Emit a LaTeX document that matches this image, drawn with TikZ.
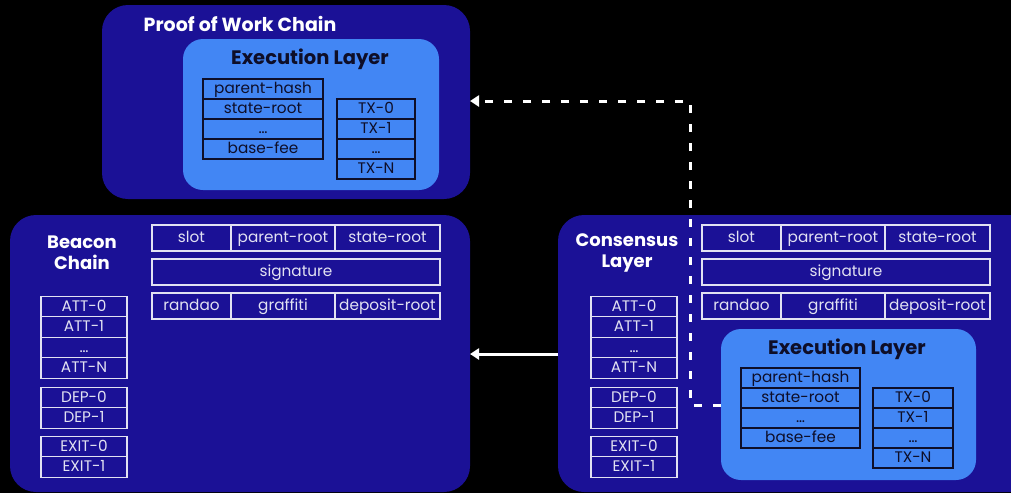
\documentclass[tikz,border=0pt]{standalone}
\usepackage{fontspec}
\setmainfont{Poppins}
\usetikzlibrary{arrows.meta}
\definecolor{navy}{RGB}{27,17,150}
\definecolor{sky}{RGB}{66,134,244}
\definecolor{edge}{RGB}{226,226,242}
\definecolor{ink}{RGB}{14,14,40}
\tikzset{
  chain/.style={fill=navy, rounded corners=26pt},
  layer/.style={fill=sky, rounded corners=20pt},
  heading/.style={font=\bfseries\fontsize{18}{21}\selectfont, text=white, align=center},
  lheading/.style={font=\bfseries\fontsize{19.5}{21}\selectfont, text=ink},
  cellfont/.style={font=\fontsize{15.3}{16}\selectfont, text height=11pt, text depth=1.4pt},
  cell/.style={draw=edge, line width=1.3pt, text=edge, inner sep=0pt, cellfont},
  ecell/.style={draw=ink, line width=1.1pt, text=ink, inner sep=0pt, cellfont},
  link/.style={draw=white, line width=3pt, -{Triangle[length=9pt,width=11pt]}},
}
\begin{document}
\begin{tikzpicture}[x=1pt,y=-1pt]
\fill[black] (0,0) rectangle (1011,493);
\useasboundingbox (0,0) rectangle (1011,493);

% ---------- proof of work chain ----------
\fill[chain] (102,5) rectangle (470,199);
\node[heading, font=\bfseries\fontsize{19}{21}\selectfont] (powt) at (240,24) {Proof of Work Chain};
\fill[layer] (183,39) rectangle (439,190);
\node[lheading] (powel) at (310,59) {Execution Layer};
\foreach \t [count=\i from 0] in {parent-hash,state-root,\dots,base-fee}
  \node[ecell, minimum width=120pt, minimum height=20pt] (powh\i) at (263,89+20*\i) {\t};
\foreach \t [count=\i from 0] in {TX-0,TX-1,\dots,TX-N}
  \node[ecell, minimum width=78pt, minimum height=20pt] (powtx\i) at (376,109+20*\i) {\t};

% ---------- beacon chain ----------
\fill[chain] (10,215) rectangle (470,492);
\node[heading] (bct) at (82,253) {Beacon\\Chain};

% ---------- consensus layer ----------
\fill[chain] (558,215) rectangle (1036,492);
\node[heading] (clt) at (627,253) {Consensus\\Layer};

% block header fields and body lists (same in both)
\foreach \ox/\p in {0/b, 550/c}{
  \begin{scope}[xshift=\ox pt]
    \node[cell, minimum width=79pt, minimum height=26pt] (\p slot) at (191.5,238) {slot};
    \node[cell, minimum width=104pt, minimum height=26pt] (\p pr) at (283,238) {parent-root};
    \node[cell, minimum width=105pt, minimum height=26pt] (\p sr) at (387.5,238) {state-root};
    \node[cell, minimum width=288pt, minimum height=26pt] (\p sig) at (296,272) {signature};
    \node[cell, minimum width=79pt, minimum height=26pt] (\p ran) at (191.5,306) {randao};
    \node[cell, minimum width=104pt, minimum height=26pt] (\p gr) at (283,306) {graffiti};
    \node[cell, minimum width=105pt, minimum height=26pt] (\p dr) at (387.5,306) {deposit-root};
    \foreach \t [count=\i from 0] in {ATT-0,ATT-1,\dots,ATT-N}
      \node[cell, minimum width=86pt, minimum height=20.5pt] (\p att\i) at (84,306.5+20.5*\i) {\t};
    \foreach \t [count=\i from 0] in {DEP-0,DEP-1}
      \node[cell, minimum width=86pt, minimum height=20.5pt] (\p dep\i) at (84,397.5+20.5*\i) {\t};
    \foreach \t [count=\i from 0] in {EXIT-0,EXIT-1}
      \node[cell, minimum width=86pt, minimum height=20.5pt] (\p exit\i) at (84,446.5+20.5*\i) {\t};
  \end{scope}
}

% execution payload inside the consensus block
\fill[layer] (721,329) rectangle (976,480);
\node[lheading] (cel) at (847,349) {Execution Layer};
\foreach \t [count=\i from 0] in {parent-hash,state-root,\dots,base-fee}
  \node[ecell, minimum width=119pt, minimum height=20pt] (ch\i) at (800.5,378+20*\i) {\t};
\foreach \t [count=\i from 0] in {TX-0,TX-1,\dots,TX-N}
  \node[ecell, minimum width=80pt, minimum height=20pt] (ctx\i) at (913,398+20*\i) {\t};

% ---------- connectors ----------
\coordinate (elfoot) at (721,405);
\coordinate (bend1) at (690,405);
\coordinate (bend2) at (690,101);
\coordinate (powin) at (470,101);
\coordinate (clout) at (558,354);
\coordinate (bcin) at (470,354);
\draw[link, dash pattern=on 8.5pt off 10.5pt] (elfoot) -- (bend1) -- (bend2) -- (powin);
\draw[link] (clout) -- (bcin);
\end{tikzpicture}
\end{document}
